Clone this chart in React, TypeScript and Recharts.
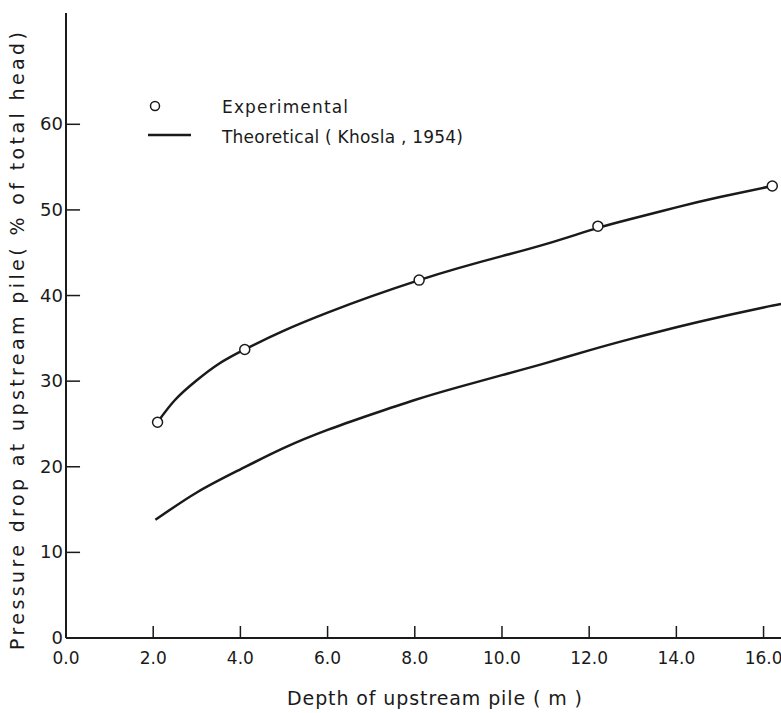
import { ComposedChart, Line, Scatter, XAxis, YAxis, Customized } from "recharts";

const xTicks = [0, 2, 4, 6, 8, 10, 12, 14, 16];
const yTicks = [0, 10, 20, 30, 40, 50, 60];

// experimental points (circles)
const expDepth = [2.1, 4.1, 8.1, 12.2, 16.2];
const expDrop = [25.2, 33.7, 41.8, 48.1, 52.8];

// curve drawn through the experimental points
const fitDepth = [2.1, 2.5, 3.0, 3.5, 4.1, 5.0, 6.0, 7.0, 8.1, 9.0, 10.0, 11.0, 12.2, 13.0, 14.0, 15.0, 16.2];
const fitDrop = [25.2, 27.8, 30.1, 32.0, 33.7, 35.9, 38.0, 39.9, 41.8, 43.2, 44.6, 46.0, 47.9, 49.0, 50.3, 51.5, 52.8];

// theoretical (Khosla, 1954)
const theoDepth = [2.05, 3.0, 4.0, 5.0, 6.0, 7.0, 8.0, 9.0, 10.0, 11.0, 12.0, 13.0, 14.0, 15.0, 16.0, 16.4];
const theoDrop = [13.8, 17.0, 19.7, 22.2, 24.3, 26.1, 27.8, 29.3, 30.7, 32.1, 33.6, 35.0, 36.3, 37.5, 38.6, 39.0];

const expData = expDepth.map((x, i) => ({ x, y: expDrop[i] }));
const fitData = fitDepth.map((x, i) => ({ x, y: fitDrop[i] }));
const theoData = theoDepth.map((x, i) => ({ x, y: theoDrop[i] }));
// inward tick marks, placed through the chart scales (exact 0 gets dropped, so nudge it)
const yTickMarks = yTicks.slice(1).map((t) => ({ x: 0.001, y: t }));
const xTickMarks = xTicks.slice(1).map((t) => ({ x: t, y: 0.001 }));

const FONT = "'DejaVu Sans', sans-serif";
const INK = "#1a1a1a";

function YTick(props: any) {
  const { x, y, payload } = props;
  return (
    <text x={x - 3} y={y} dy={6} textAnchor="end" fontSize={18} fontFamily={FONT} fill={INK}>
      {payload.value}
    </text>
  );
}

function XTick(props: any) {
  const { x, y, payload } = props;
  return (
    <text x={x} y={y + 24} textAnchor="middle" fontSize={17} fontFamily={FONT} fill={INK}>
      {payload.value.toFixed(1)}
    </text>
  );
}

function OpenCircle(props: any) {
  const { cx, cy } = props;
  return <circle cx={cx} cy={cy} r={5} fill="#fff" stroke={INK} strokeWidth={1.5} />;
}

function HTickMark(props: any) {
  const { cx, cy } = props;
  return <rect x={cx} y={cy - 0.75} width={14} height={1.5} fill={INK} />;
}

function VTickMark(props: any) {
  const { cx, cy } = props;
  return <rect x={cx - 0.75} y={cy - 12} width={1.5} height={12} fill={INK} />;
}

function Decorations() {
  return (
    <g fontFamily={FONT} fill={INK}>
      <text
        x={0}
        y={0}
        transform="translate(24 341) rotate(-90)"
        textAnchor="middle"
        fontSize={19}
        textLength={618}
        lengthAdjust="spacing"
      >
        Pressure drop at upstream pile( % of total head)
      </text>
      <text x={287} y={705} fontSize={19} textLength={295} lengthAdjust="spacing">
        Depth of upstream pile ( m )
      </text>
      <circle cx={155} cy={106} r={4.5} fill="#fff" stroke={INK} strokeWidth={1.5} />
      <line x1={148} x2={191} y1={135} y2={135} stroke={INK} strokeWidth={2.5} />
      <text x={222} y={113} fontSize={17} textLength={126} lengthAdjust="spacing">
        Experimental
      </text>
      <text x={222} y={143} fontSize={17} textLength={241} lengthAdjust="spacing">
        Theoretical ( Khosla , 1954)
      </text>
    </g>
  );
}

export default function App() {
  return (
    <div style={{ position: "absolute", left: 0, top: 0, background: "#fff" }}>
      <ComposedChart width={781} height={713} margin={{ top: 13, right: 0, left: 0, bottom: 0 }}>
        <XAxis
          type="number"
          dataKey="x"
          domain={[0, 16.4]}
          ticks={xTicks}
          height={75}
          axisLine={{ stroke: INK, strokeWidth: 2 }}
          tickLine={false}
          tickSize={0}
          tick={<XTick />}
        />
        <YAxis
          type="number"
          dataKey="y"
          domain={[0, 73]}
          ticks={yTicks}
          width={66}
          axisLine={{ stroke: INK, strokeWidth: 2 }}
          tickLine={false}
          tickSize={0}
          tickMargin={0}
          tick={<YTick />}
        />
        <Line
          data={theoData}
          dataKey="y"
          type="natural"
          stroke={INK}
          strokeWidth={2.5}
          dot={false}
          isAnimationActive={false}
        />
        <Line
          data={fitData}
          dataKey="y"
          type="natural"
          stroke={INK}
          strokeWidth={2.5}
          dot={false}
          isAnimationActive={false}
        />
        <Scatter data={expData} dataKey="y" shape={<OpenCircle />} isAnimationActive={false} />
        <Scatter data={yTickMarks} dataKey="y" shape={<HTickMark />} isAnimationActive={false} />
        <Scatter data={xTickMarks} dataKey="y" shape={<VTickMark />} isAnimationActive={false} />
        <Customized component={<Decorations />} />
      </ComposedChart>
    </div>
  );
}
